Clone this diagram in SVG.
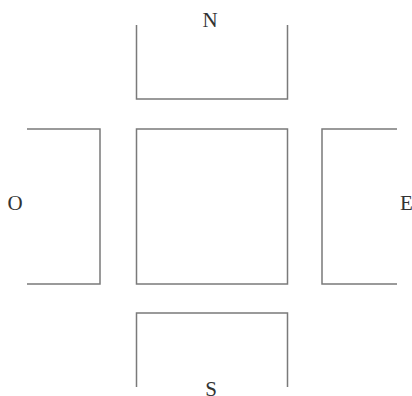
<svg xmlns="http://www.w3.org/2000/svg" width="412" height="396" viewBox="0 0 412 396">
<style>
.ln{fill:none;stroke:#7a7a7a;stroke-width:1.5}
.t{font-family:"Liberation Serif","Times New Roman",serif;font-size:21px;fill:#333;text-anchor:middle}
</style>
<rect width="412" height="396" fill="#fff"/>
<g id="north"><path class="ln" d="M136.5,25 V99 H287.5 V25"/><text class="t" x="210" y="27">N</text></g>
<g id="center"><rect class="ln" x="136.5" y="129" width="151" height="155"/></g>
<g id="west"><path class="ln" d="M27,129 H100 V284 H27"/><text class="t" x="15" y="210">O</text></g>
<g id="east"><path class="ln" d="M397,129 H322 V284 H397"/><text class="t" x="400" y="210" style="text-anchor:start">E</text></g>
<g id="south"><path class="ln" d="M136.5,387 V313 H287.5 V387"/><text class="t" x="211" y="396">S</text></g>
<g id="connectors"></g>
</svg>
